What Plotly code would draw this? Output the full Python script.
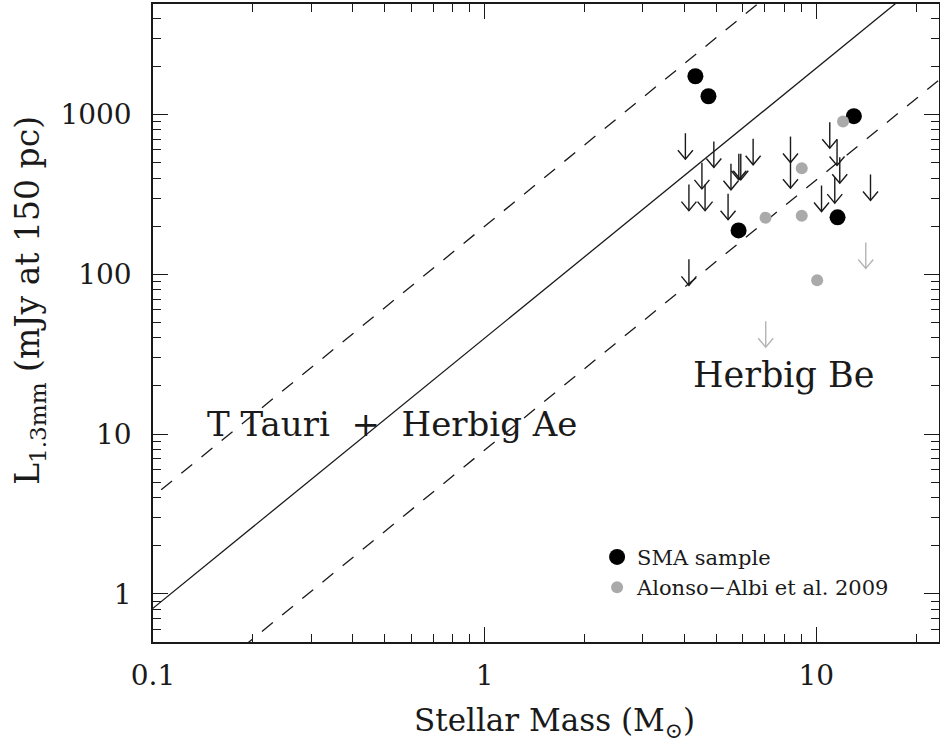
import plotly.graph_objects as go

# ---- data ----
# SMA sample detections
sma_mass = [4.32, 4.73, 12.98, 5.83, 11.59]
sma_flux = [1734, 1300, 975, 188, 227]

# SMA sample upper limits
sma_lim_mass = [4.03, 4.91, 4.52, 5.84, 5.92, 6.45, 5.53, 4.13, 4.62, 5.42,
                8.36, 8.36, 10.98, 11.55, 11.77, 11.37, 10.37, 14.57, 4.13]
sma_lim_flux = [763, 677, 498, 567, 567, 704, 491, 364, 364, 319,
                727, 502, 894, 697, 540, 405, 359, 421, 124]

# Alonso-Albi et al. 2009 detections
aa_mass = [12.04, 9.04, 7.03, 9.04, 10.06]
aa_flux = [903, 461, 226, 232, 91.7]

# Alonso-Albi et al. 2009 upper limits
aa_lim_mass = [14.1, 7.04]
aa_lim_flux = [158, 50.8]

# L_mm - M relation (log L = a + b log M) and its +/- spread (dex)
rel_slope = 1.69
rel_intercept = 1.60
rel_spread = 0.70
rel_mass_ends = [0.08, 30.0]

x_tick_vals = [0.1, 1, 10]
x_tick_text = ["0.1", "1", "10"]
y_tick_vals = [1, 10, 100, 1000]
y_tick_text = ["1", "10", "100", "1000"]

# ---- styling constants ----
FONT = "DejaVu Serif"
INK = "#1a1a1a"
GRAY = "#aaaaaa"
GRAY_ARROW = "#b4b4b4"
PX_PER_DEX_X = 331.6
PX_PER_DEX_Y = 159.8
ARROW_LEN = 26 / PX_PER_DEX_Y
HEAD_DX = 7.5 / PX_PER_DEX_X
HEAD_DY = 9 / PX_PER_DEX_Y


def limit_arrows(ms, ls):
    xs, ys = [], []
    for m, l in zip(ms, ls):
        tip = l * 10 ** (-ARROW_LEN)
        arm = tip * 10 ** HEAD_DY
        xs += [m, m, None, m * 10 ** (-HEAD_DX), m, m * 10 ** HEAD_DX, None]
        ys += [l, tip, None, arm, tip, arm, None]
    return xs, ys


def relation(offset):
    return [10 ** (rel_intercept + offset) * m ** rel_slope for m in rel_mass_ends]


fig = go.Figure()

# relation lines
fig.add_trace(go.Scatter(x=rel_mass_ends, y=relation(0), mode="lines",
                         line=dict(color=INK, width=1.3), showlegend=False, hoverinfo="skip"))
for off in (rel_spread, -rel_spread):
    fig.add_trace(go.Scatter(x=rel_mass_ends, y=relation(off), mode="lines",
                             line=dict(color=INK, width=1.3, dash="14px,12px"),
                             showlegend=False, hoverinfo="skip"))

# upper limits
ax_, ay_ = limit_arrows(sma_lim_mass, sma_lim_flux)
fig.add_trace(go.Scatter(x=ax_, y=ay_, mode="lines", line=dict(color=INK, width=1.4),
                         showlegend=False, hoverinfo="skip"))
gx_, gy_ = limit_arrows(aa_lim_mass, aa_lim_flux)
fig.add_trace(go.Scatter(x=gx_, y=gy_, mode="lines", line=dict(color=GRAY_ARROW, width=1.4),
                         showlegend=False, hoverinfo="skip"))

# detections
fig.add_trace(go.Scatter(x=sma_mass, y=sma_flux, mode="markers", name="SMA sample",
                         marker=dict(color="black", size=16, line=dict(width=0))))
fig.add_trace(go.Scatter(x=aa_mass, y=aa_flux, mode="markers", name="Alonso\u2212Albi et al. 2009",
                         marker=dict(color=GRAY, size=12, line=dict(width=0))))

axis_common = dict(
    type="log", showgrid=False, zeroline=False, showline=True, linecolor=INK, linewidth=1.5,
    mirror="allticks", ticks="inside", ticklen=15, tickwidth=1.2, tickcolor=INK,
    tickfont=dict(family=FONT, size=28, color=INK),
    minor=dict(ticks="inside", ticklen=8, tickwidth=1.2, tickcolor=INK, dtick="D1", showgrid=False),
    tickmode="array",
)

fig.update_layout(
    width=940, height=750,
    margin=dict(l=153, r=1, t=4, b=108, autoexpand=False),
    paper_bgcolor="white", plot_bgcolor="white",
    xaxis=dict(axis_common, range=[-1, 1.370], tickvals=x_tick_vals, ticktext=x_tick_text,
               ticklabelstandoff=8),
    yaxis=dict(axis_common, range=[-0.301, 3.691], tickvals=y_tick_vals, ticktext=y_tick_text,
               ticklabelstandoff=14),
    legend=dict(x=0.565, y=0.165, xanchor="left", yanchor="top",
                font=dict(family=FONT, size=21, color=INK), bgcolor="rgba(0,0,0,0)",
                itemsizing="trace"),
    annotations=[
        dict(text="T Tauri  +  Herbig Ae", xref="paper", yref="paper", x=0.066, y=0.341,
             xanchor="left", yanchor="middle", showarrow=False,
             font=dict(family=FONT, size=34, color=INK)),
        dict(text="Herbig Be", xref="paper", yref="paper", x=0.684, y=0.418,
             xanchor="left", yanchor="middle", showarrow=False,
             font=dict(family=FONT, size=35, color=INK)),
        dict(text="Stellar Mass (M<sub>\u2299</sub>)", xref="paper", yref="paper", x=0.511, y=-0.126,
             xanchor="center", yanchor="middle", showarrow=False,
             font=dict(family=FONT, size=31, color=INK)),
        dict(text="L<sub>1.3mm</sub> (mJy at 150 pc)", xref="paper", yref="paper", x=-0.158, y=0.536,
             xanchor="center", yanchor="middle", showarrow=False, textangle=-90,
             font=dict(family=FONT, size=33, color=INK)),
    ],
)

fig.write_html("out.html")
